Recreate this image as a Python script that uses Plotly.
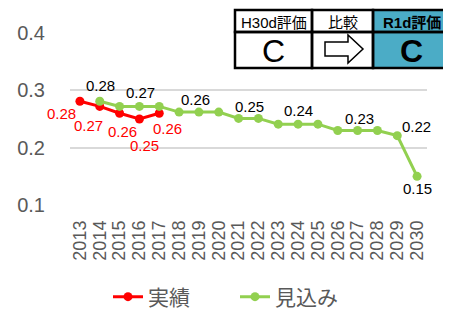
import plotly.graph_objects as go

# data
years = list(range(2013, 2031))
actual_years = years[:5]
actual_vals = [0.281, 0.272, 0.260, 0.250, 0.260]
forecast_years = years[1:]
forecast_vals = [0.281, 0.272, 0.272, 0.272, 0.262, 0.262, 0.262, 0.251, 0.251,
                 0.241, 0.241, 0.241, 0.230, 0.230, 0.230, 0.221, 0.150]
y_ticks = [0.1, 0.2, 0.3, 0.4]
table_header = ["H30d評価", "比較", "R1d評価"]
table_grades = ["C", "C"]

# label placement (pixel offsets from the point)
actual_label_shift = {2013: (-18, -12), 2014: (-11, -19), 2015: (3, -18),
                      2016: (5, -26), 2017: (8, -15)}
forecast_label_shift = {2014: (1, 16), 2016: (1, 14), 2019: (-3, 13),
                        2022: (-9, 12), 2024: (0, 14), 2027: (2, 12),
                        2029: (19, 9), 2030: (0, -12)}

# the page body adds an 8px margin, so the figure is drawn 8px smaller
OFF = 8
W, H = 451 - OFF, 326 - OFF
L, R, T, B = 70 - OFF, 427 - OFF, 33 - OFF, 205 - OFF
FONT = "Liberation Sans, Arial, Noto Sans CJK JP, sans-serif"
RED = "#FF0000"
GREEN = "#92D050"
GREY = "#595959"
BLUE = "#4BACC6"


def px(x):
    # window pixel -> paper x
    return (x - OFF - L) / (R - L)


def py(y):
    # window pixel -> paper y
    return (B - (y - OFF)) / (B - T)


fig = go.Figure()
fig.add_trace(go.Scatter(
    x=actual_years, y=actual_vals, name="実績", mode="lines+markers",
    line=dict(color=RED, width=3), marker=dict(color=RED, size=9),
))
fig.add_trace(go.Scatter(
    x=forecast_years, y=forecast_vals, name="見込み", mode="lines+markers",
    line=dict(color=GREEN, width=3), marker=dict(color=GREEN, size=9),
))

annotations = []
for yr, v in zip(actual_years, actual_vals):
    if yr in actual_label_shift:
        dx, dy = actual_label_shift[yr]
        annotations.append(dict(x=yr, y=v, text=f"{v:.2f}", showarrow=False,
                                xshift=dx, yshift=dy,
                                font=dict(color=RED, size=15, family=FONT)))
for yr, v in zip(forecast_years, forecast_vals):
    if yr in forecast_label_shift:
        dx, dy = forecast_label_shift[yr]
        annotations.append(dict(x=yr, y=v, text=f"{v:.2f}", showarrow=False,
                                xshift=dx, yshift=dy,
                                font=dict(color="black", size=15, family=FONT)))

# evaluation table in the top right corner
cols = [235, 312, 373, 450]
rows = [10, 32, 68]
shapes = []
shapes.append(dict(type="rect", xref="paper", yref="paper",
                   x0=px(cols[0]), x1=px(cols[3]), y0=py(rows[2]), y1=py(rows[0]),
                   fillcolor="white", line=dict(width=0), layer="above"))
shapes.append(dict(type="rect", xref="paper", yref="paper",
                   x0=px(cols[2]), x1=px(cols[3]), y0=py(rows[2]), y1=py(rows[0]),
                   fillcolor=BLUE, line=dict(width=0), layer="above"))
for i in range(3):
    for j in range(2):
        shapes.append(dict(type="rect", xref="paper", yref="paper",
                           x0=px(cols[i]), x1=px(cols[i + 1]),
                           y0=py(rows[j + 1]), y1=py(rows[j]),
                           line=dict(color="black", width=2.5), layer="above"))


def cell_text(x, y, text, size):
    annotations.append(dict(x=px(x), y=py(y), xref="paper", yref="paper",
                            xanchor="center", yanchor="middle", text=text,
                            showarrow=False,
                            font=dict(size=size, color="black", family=FONT)))


for i, txt in enumerate(table_header):
    t = f"<b>{txt}</b>" if i == 2 else txt
    cell_text((cols[i] + cols[i + 1]) / 2, (rows[0] + rows[1]) / 2 + 1, t, 15)
cell_text((cols[0] + cols[1]) / 2, (rows[1] + rows[2]) / 2 + 1, table_grades[0], 32)
cell_text((cols[2] + cols[3]) / 2, (rows[1] + rows[2]) / 2 + 1,
          f"<b>{table_grades[1]}</b>", 32)

# outlined arrow in the middle cell
arrow_pts = [(325, 42), (348, 42), (348, 35), (363, 49), (348, 63), (348, 56), (325, 56)]
path = "M " + " L ".join(f"{px(a):.4f},{py(b):.4f}" for a, b in arrow_pts) + " Z"
shapes.append(dict(type="path", xref="paper", yref="paper", path=path,
                   fillcolor="white", line=dict(color="black", width=1.5), layer="above"))

fig.update_layout(
    width=W, height=H,
    margin=dict(l=L, r=W - R, t=T, b=H - B, autoexpand=False),
    paper_bgcolor="white", plot_bgcolor="white",
    font=dict(family=FONT, color=GREY),
    showlegend=True,
    legend=dict(orientation="h", x=px(108), xanchor="left", y=py(297), yanchor="middle",
                entrywidth=82, entrywidthmode="pixels",
                font=dict(size=21, color=GREY, family=FONT)),
    xaxis=dict(range=[years[0] - 0.5, years[-1] + 0.5], tickvals=years,
               ticktext=[str(y) for y in years],
               tickangle=-90, tickfont=dict(size=18, color=GREY),
               showgrid=False, zeroline=False, showline=False, ticks="",
               ticklabelstandoff=11),
    yaxis=dict(range=[0.1, 0.4], tickvals=y_ticks, ticktext=[f"{v:.1f}" for v in y_ticks],
               tickfont=dict(size=20, color=GREY), showgrid=True,
               gridcolor="#D9D9D9", gridwidth=2, zeroline=False, showline=False,
               ticks="", ticklabelstandoff=24),
    shapes=shapes,
    annotations=annotations,
)

fig.write_html("out.html")
